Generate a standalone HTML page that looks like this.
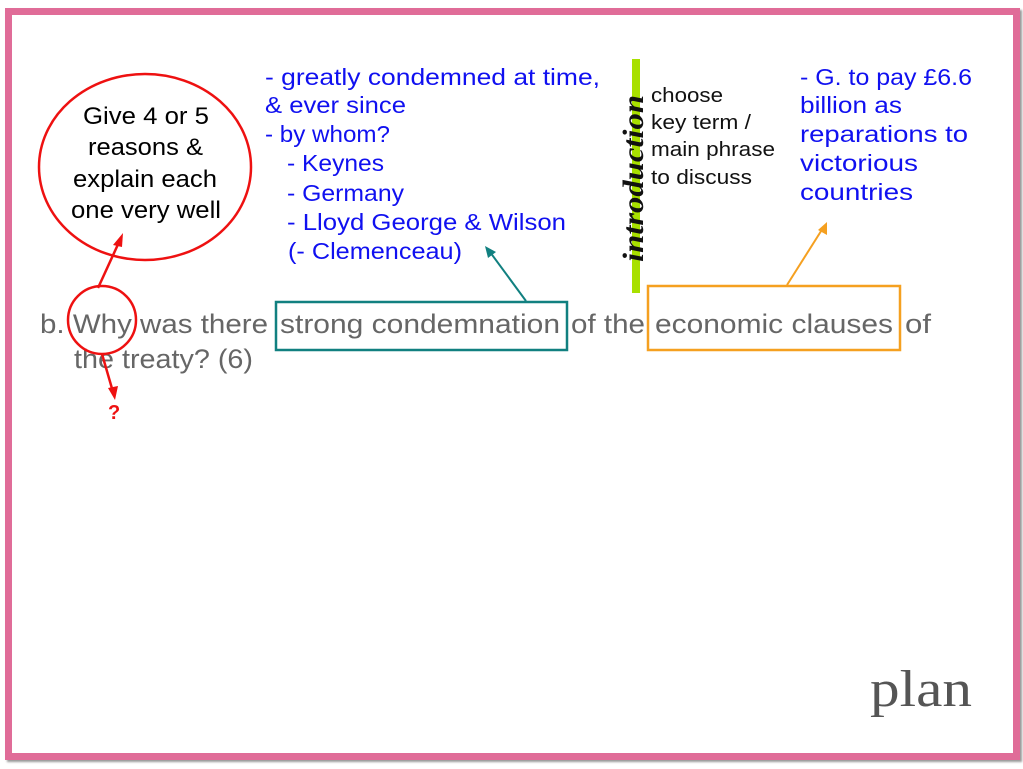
<!DOCTYPE html>
<html><head><meta charset="utf-8"><style>
body{margin:0;width:1023px;height:769px;background:#fff;position:relative;overflow:hidden;font-family:"Liberation Sans",sans-serif}
.a{position:absolute}
.hw{font-family:"Liberation Sans",sans-serif;fill:#1010f0;font-size:23px}
.bl{font-size:20px;fill:#111}
.q{font-size:27px;fill:#666}
</style></head><body>
<div class="a" style="left:5px;top:8px;width:1001px;height:738px;border:7px solid #e06c98;box-shadow:2px 2px 2px #999"></div>
<svg class="a" style="left:0;top:0" width="1023" height="769">
<g class="q">
<text x="40" y="333" textLength="228" lengthAdjust="spacingAndGlyphs">b. Why was there</text>
<text x="280" y="333" textLength="280" lengthAdjust="spacingAndGlyphs">strong condemnation</text>
<text x="571" y="333" textLength="74" lengthAdjust="spacingAndGlyphs">of the</text>
<text x="655" y="333" textLength="238" lengthAdjust="spacingAndGlyphs">economic clauses</text>
<text x="905" y="333" textLength="26" lengthAdjust="spacingAndGlyphs">of</text>
<text x="74" y="368" textLength="179" lengthAdjust="spacingAndGlyphs">the treaty? (6)</text>
</g>
<ellipse cx="145" cy="167" rx="106" ry="93" fill="none" stroke="#ee1111" stroke-width="2.5"/>
<circle cx="102" cy="320" r="34" fill="none" stroke="#ee1111" stroke-width="2.5"/>
<line x1="98" y1="288" x2="120" y2="240" stroke="#ee1111" stroke-width="2.5"/>
<polygon points="123,233 113,245 122,247" fill="#ee1111"/>
<line x1="102" y1="354" x2="113" y2="392" stroke="#ee1111" stroke-width="2.5"/>
<polygon points="115,400 108,388 118,386" fill="#ee1111"/>
<rect x="276" y="302" width="291" height="48" fill="none" stroke="#118080" stroke-width="2.5"/>
<line x1="526" y1="301" x2="490" y2="252" stroke="#118080" stroke-width="2"/>
<polygon points="485,246 496,252 488,258" fill="#118080"/>
<rect x="648" y="286" width="252" height="64" fill="none" stroke="#f5a020" stroke-width="2.5"/>
<line x1="787" y1="285" x2="823" y2="228" stroke="#f5a020" stroke-width="2"/>
<polygon points="827,222 827,235 818,230" fill="#f5a020"/>
<rect x="632" y="59" width="8" height="234" fill="#a8e000"/>
<text x="0" y="0" transform="translate(643,262) rotate(-90)" textLength="167" lengthAdjust="spacingAndGlyphs" style="font-family:'Liberation Serif',serif;font-style:italic;font-weight:bold;font-size:30px;fill:#111">introduction</text>
<g style="font-size:24px;fill:#000">
<text x="83" y="124" textLength="126" lengthAdjust="spacingAndGlyphs">Give 4 or 5</text>
<text x="88" y="155" textLength="115" lengthAdjust="spacingAndGlyphs">reasons &amp;</text>
<text x="73" y="187" textLength="144" lengthAdjust="spacingAndGlyphs">explain each</text>
<text x="71" y="218" textLength="150" lengthAdjust="spacingAndGlyphs">one very well</text>
</g>
<text x="108" y="419" style="fill:#ee1111;font-weight:bold;font-size:20px">?</text>
<g class="hw">
<text x="265" y="85" textLength="335" lengthAdjust="spacingAndGlyphs">- greatly condemned at time,</text>
<text x="265" y="113" textLength="141" lengthAdjust="spacingAndGlyphs">&amp; ever since</text>
<text x="265" y="142" textLength="125" lengthAdjust="spacingAndGlyphs">- by whom?</text>
<text x="287" y="171" textLength="97" lengthAdjust="spacingAndGlyphs">- Keynes</text>
<text x="287" y="201" textLength="117" lengthAdjust="spacingAndGlyphs">- Germany</text>
<text x="287" y="230" textLength="279" lengthAdjust="spacingAndGlyphs">- Lloyd George &amp; Wilson</text>
<text x="288" y="259" textLength="174" lengthAdjust="spacingAndGlyphs">(- Clemenceau)</text>
<text x="800" y="85" textLength="172" lengthAdjust="spacingAndGlyphs">- G. to pay £6.6</text>
<text x="800" y="113" textLength="102" lengthAdjust="spacingAndGlyphs">billion as</text>
<text x="800" y="142" textLength="168" lengthAdjust="spacingAndGlyphs">reparations to</text>
<text x="800" y="171" textLength="118" lengthAdjust="spacingAndGlyphs">victorious</text>
<text x="800" y="200" textLength="113" lengthAdjust="spacingAndGlyphs">countries</text>
</g>
<g class="bl">
<text x="651" y="102" textLength="72" lengthAdjust="spacingAndGlyphs">choose</text>
<text x="651" y="129" textLength="100" lengthAdjust="spacingAndGlyphs">key term /</text>
<text x="651" y="156" textLength="124" lengthAdjust="spacingAndGlyphs">main phrase</text>
<text x="651" y="184" textLength="101" lengthAdjust="spacingAndGlyphs">to discuss</text>
</g>
<text x="870" y="706" textLength="102" lengthAdjust="spacingAndGlyphs" style="font-family:'Liberation Serif',serif;font-size:52px;fill:#555">plan</text>
</svg>
</body></html>
